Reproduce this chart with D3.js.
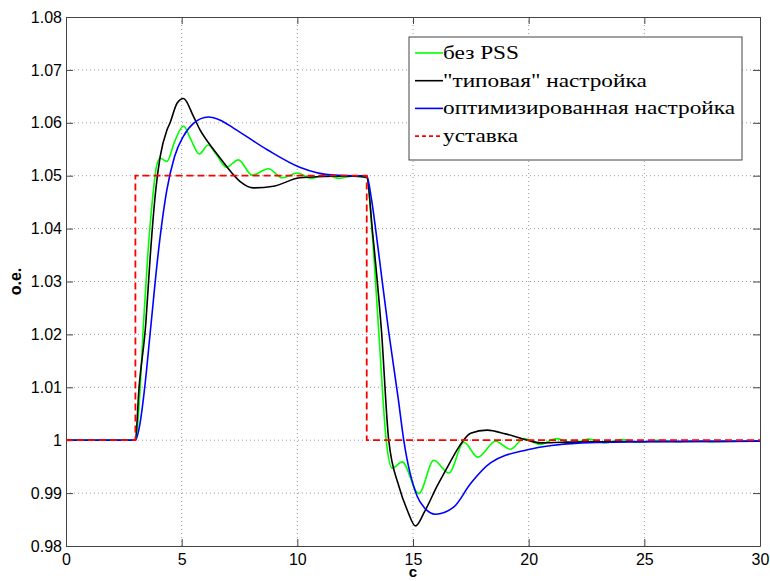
<!DOCTYPE html>
<html>
<head>
<meta charset="utf-8">
<style>
  body { margin: 0; background: #fff; }
  svg { display: block; }
</style>
</head>
<body>
<svg width="770" height="581"></svg>
<script src="https://cdn.jsdelivr.net/npm/d3@7"></script>
<script>

// data: time (c) and value (о.е.)
const xTicks = [0, 5, 10, 15, 20, 25, 30];
const yTicks = [0.98, 0.99, 1.00, 1.01, 1.02, 1.03, 1.04, 1.05, 1.06, 1.07, 1.08];

const seriesNames = ["без PSS", "\"типовая\" настройка", "оптимизированная настройка", "уставка"];

const noPssT = [0, 3.0, 3.2, 3.35, 3.53, 3.78, 3.9, 4.07, 4.36, 4.7, 5.08, 5.4, 5.76, 6.15, 6.5, 6.93, 7.45, 8.05, 8.75, 9.35, 10.0, 10.6, 11.2, 11.8, 12.4, 13.0,
  13.23, 13.52, 13.84, 14.1, 14.53, 15.25, 15.9, 16.55, 17.2, 17.8, 18.57, 19.2, 19.8, 20.5, 21.2, 21.9, 22.6, 23.3, 24.0, 24.8, 25.6, 26.4, 27.2, 28.0, 29.0, 30.0];
const noPssV = [1.0, 1.0, 1.0095, 1.0221, 1.0347, 1.0473, 1.0515, 1.0533, 1.0527, 1.0565, 1.0594, 1.0568, 1.0541, 1.0558, 1.0540, 1.0516, 1.0530, 1.0501, 1.0513, 1.0496, 1.0505, 1.0495, 1.0502, 1.0495, 1.0499, 1.0496,
  1.0394, 1.0205, 1.0, 0.9947, 0.9959, 0.9899, 0.9962, 0.9938, 0.9996, 0.9968, 0.9998, 0.9983, 1.0003, 0.9992, 1.0003, 0.9994, 1.0002, 0.9995, 1.0001, 0.9996, 1.0, 0.9997, 0.9999, 0.9997, 0.9998, 0.9998];

const typicalT = [0, 3.0, 3.15, 3.45, 3.64, 3.88, 4.07, 4.36, 4.5, 4.8, 5.08, 5.51, 5.8, 6.23, 6.67, 6.97, 7.53, 8.1, 8.97, 10.1, 11.56, 12.5, 13.0,
  13.25, 13.64, 13.95, 14.39, 14.75, 15.11, 15.5, 16.04, 16.5, 16.98, 17.49, 18.2, 19.0, 19.95, 20.5, 21.5, 23.0, 30.0];
const typicalV = [1.0, 1.0, 1.0095, 1.0221, 1.0347, 1.0473, 1.0536, 1.0586, 1.0600, 1.0637, 1.0646, 1.0612, 1.0586, 1.0558, 1.0533, 1.0516, 1.0489, 1.0477, 1.0480, 1.0496, 1.0499, 1.0499, 1.0497,
  1.0394, 1.0205, 1.0, 0.9913, 0.9868, 0.9838, 0.9865, 0.9913, 0.9950, 0.9987, 1.0013, 1.0019, 1.0012, 1.0, 0.9995, 0.9996, 0.9997, 0.9998];

const optT = [0, 3.0, 3.2, 3.39, 3.68, 3.97, 4.36, 4.69, 5.08, 5.51, 6.15, 6.67, 7.24, 8.7, 10.1, 11.56, 12.5, 13.0,
  13.2, 13.4, 13.67, 13.95, 14.36, 14.6, 15.18, 15.5, 15.97, 16.77, 17.49, 18.35, 19.95, 21.0, 22.0, 25.0, 30.0];
const optV = [1.0, 1.0, 1.0032, 1.0095, 1.0221, 1.0347, 1.0473, 1.0536, 1.0575, 1.0599, 1.0611, 1.0605, 1.0590, 1.0549, 1.0516, 1.0501, 1.0500, 1.0500,
  1.0457, 1.0394, 1.0300, 1.0205, 1.0079, 1.0, 0.9894, 0.9872, 0.9860, 0.9874, 0.9918, 0.9957, 0.9982, 0.9990, 0.9994, 0.9997, 0.9998];

const setT = [0, 3, 3, 13, 13, 30];
const setV = [1.0, 1.0, 1.05, 1.05, 1.0, 1.0];

const colors = ["#00ff00", "#000000", "#0000ff", "#ff0000"];

const sansFont = "'Liberation Sans', Arial, sans-serif";
const legendFont = "'Liberation Serif', 'Times New Roman', 'DejaVu Sans', serif";

//START: Init
const svg = d3.select("svg"),
    width = +svg.attr("width"),
    height = +svg.attr("height"),
    margin = {top: 17, right: 10, bottom: 35, left: 66},
    pw = width - margin.left - margin.right,
    ph = height - margin.top - margin.bottom;

const x = d3.scaleLinear().domain([0, 30]).range([0, pw]);
const y = d3.scaleLinear().domain([0.98, 1.08]).range([ph, 0]);

const g = svg.append("g").attr("transform", "translate(" + margin.left + "," + margin.top + ")");

svg.append("defs").append("clipPath").attr("id", "clip")
  .append("rect").attr("width", pw).attr("height", ph);
//END: Init

// grid
g.append("g").selectAll("line").data(xTicks.slice(1, -1)).enter().append("line")
  .attr("x1", d => x(d)).attr("x2", d => x(d)).attr("y1", 0).attr("y2", ph)
  .attr("stroke", "#9a9a9a").attr("stroke-dasharray", "1,3");
g.append("g").selectAll("line").data(yTicks.slice(1, -1)).enter().append("line")
  .attr("y1", d => y(d)).attr("y2", d => y(d)).attr("x1", 0).attr("x2", pw)
  .attr("stroke", "#9a9a9a").attr("stroke-dasharray", "1,3");

// axes, matlab-like: ticks inside, on all four sides
const tickFmt = d => d === 1 ? "1" : d3.format(".2f")(d);
const axisStyle = sel => {
  sel.attr("font-family", sansFont).attr("font-size", 16);
  sel.select(".domain").attr("stroke", "#444");
  sel.selectAll(".tick line").attr("stroke", "#444");
  sel.selectAll("text").attr("fill", "#000");
};

g.append("g").attr("transform", "translate(0," + ph + ")")
  .call(d3.axisBottom(x).tickValues(xTicks).tickSizeInner(-7).tickSizeOuter(0).tickPadding(8).tickFormat(d3.format("d")))
  .call(axisStyle);
g.append("g")
  .call(d3.axisTop(x).tickValues(xTicks).tickSizeInner(-7).tickSizeOuter(0).tickFormat(""))
  .call(axisStyle);
g.append("g")
  .call(d3.axisLeft(y).tickValues(yTicks).tickSizeInner(-7).tickSizeOuter(0).tickPadding(4).tickFormat(tickFmt))
  .call(axisStyle);
g.append("g").attr("transform", "translate(" + pw + ",0)")
  .call(d3.axisRight(y).tickValues(yTicks).tickSizeInner(-7).tickSizeOuter(0).tickFormat(""))
  .call(axisStyle);

// series
const line = d3.line().x(d => x(d[0])).y(d => y(d[1])).curve(d3.curveMonotoneX);
const stepLine = d3.line().x(d => x(d[0])).y(d => y(d[1]));

const series = [
  d3.zip(noPssT, noPssV),
  d3.zip(typicalT, typicalV),
  d3.zip(optT, optV)
];
const lines = g.append("g").attr("clip-path", "url(#clip)");
series.forEach(function(s, i) {
  lines.append("path").datum(s)
    .attr("d", line)
    .attr("fill", "none")
    .attr("stroke", colors[i])
    .attr("stroke-width", 1.6);
});
lines.append("path").datum(d3.zip(setT, setV))
  .attr("d", stepLine)
  .attr("fill", "none")
  .attr("stroke", colors[3])
  .attr("stroke-width", 1.8)
  .attr("stroke-dasharray", "7,4");

// axis labels
svg.append("text")
  .attr("x", margin.left + pw / 2).attr("y", 577)
  .attr("text-anchor", "middle")
  .attr("font-family", sansFont).attr("font-size", 15).attr("font-weight", "bold")
  .text("с");
svg.append("text")
  .attr("transform", "translate(21," + (margin.top + ph / 2) + ") rotate(-90)")
  .attr("text-anchor", "middle")
  .attr("font-family", sansFont).attr("font-size", 16).attr("font-weight", "bold")
  .text("о.е.");

// legend
const leg = svg.append("g").attr("transform", "translate(409,37)");
leg.append("rect").attr("width", 333).attr("height", 123)
  .attr("fill", "#fff").attr("stroke", "#444").attr("stroke-width", 1);
seriesNames.forEach(function(name, i) {
  const ly = 16 + i * 27.7;
  leg.append("line")
    .attr("x1", 6).attr("x2", 34).attr("y1", ly).attr("y2", ly)
    .attr("stroke", colors[i]).attr("stroke-width", 1.6)
    .attr("stroke-dasharray", i === 3 ? "4,3" : null);
  leg.append("text")
    .attr("x", 34).attr("y", ly + 6)
    .attr("font-family", legendFont).attr("font-size", 19)
    .attr("textLength", i === 2 ? 292 : null)
    .attr("lengthAdjust", "spacingAndGlyphs")
    .text(name);
});

// keep other legend entries in proportion to the longest one
const refText = leg.selectAll("text").nodes()[2];
const natural = refText.getComputedTextLength ? (function() {
  const t = leg.append("text").attr("font-family", legendFont).attr("font-size", 19).text(seriesNames[2]);
  const w = t.node().getComputedTextLength(); t.remove(); return w;
})() : 292;
const k = 292 / natural;
leg.selectAll("text").each(function(d, i) {
  if (i === 2) return;
  const t = d3.select(this);
  t.attr("textLength", this.getComputedTextLength() * k).attr("lengthAdjust", "spacingAndGlyphs");
});

</script>
</body>
</html>
